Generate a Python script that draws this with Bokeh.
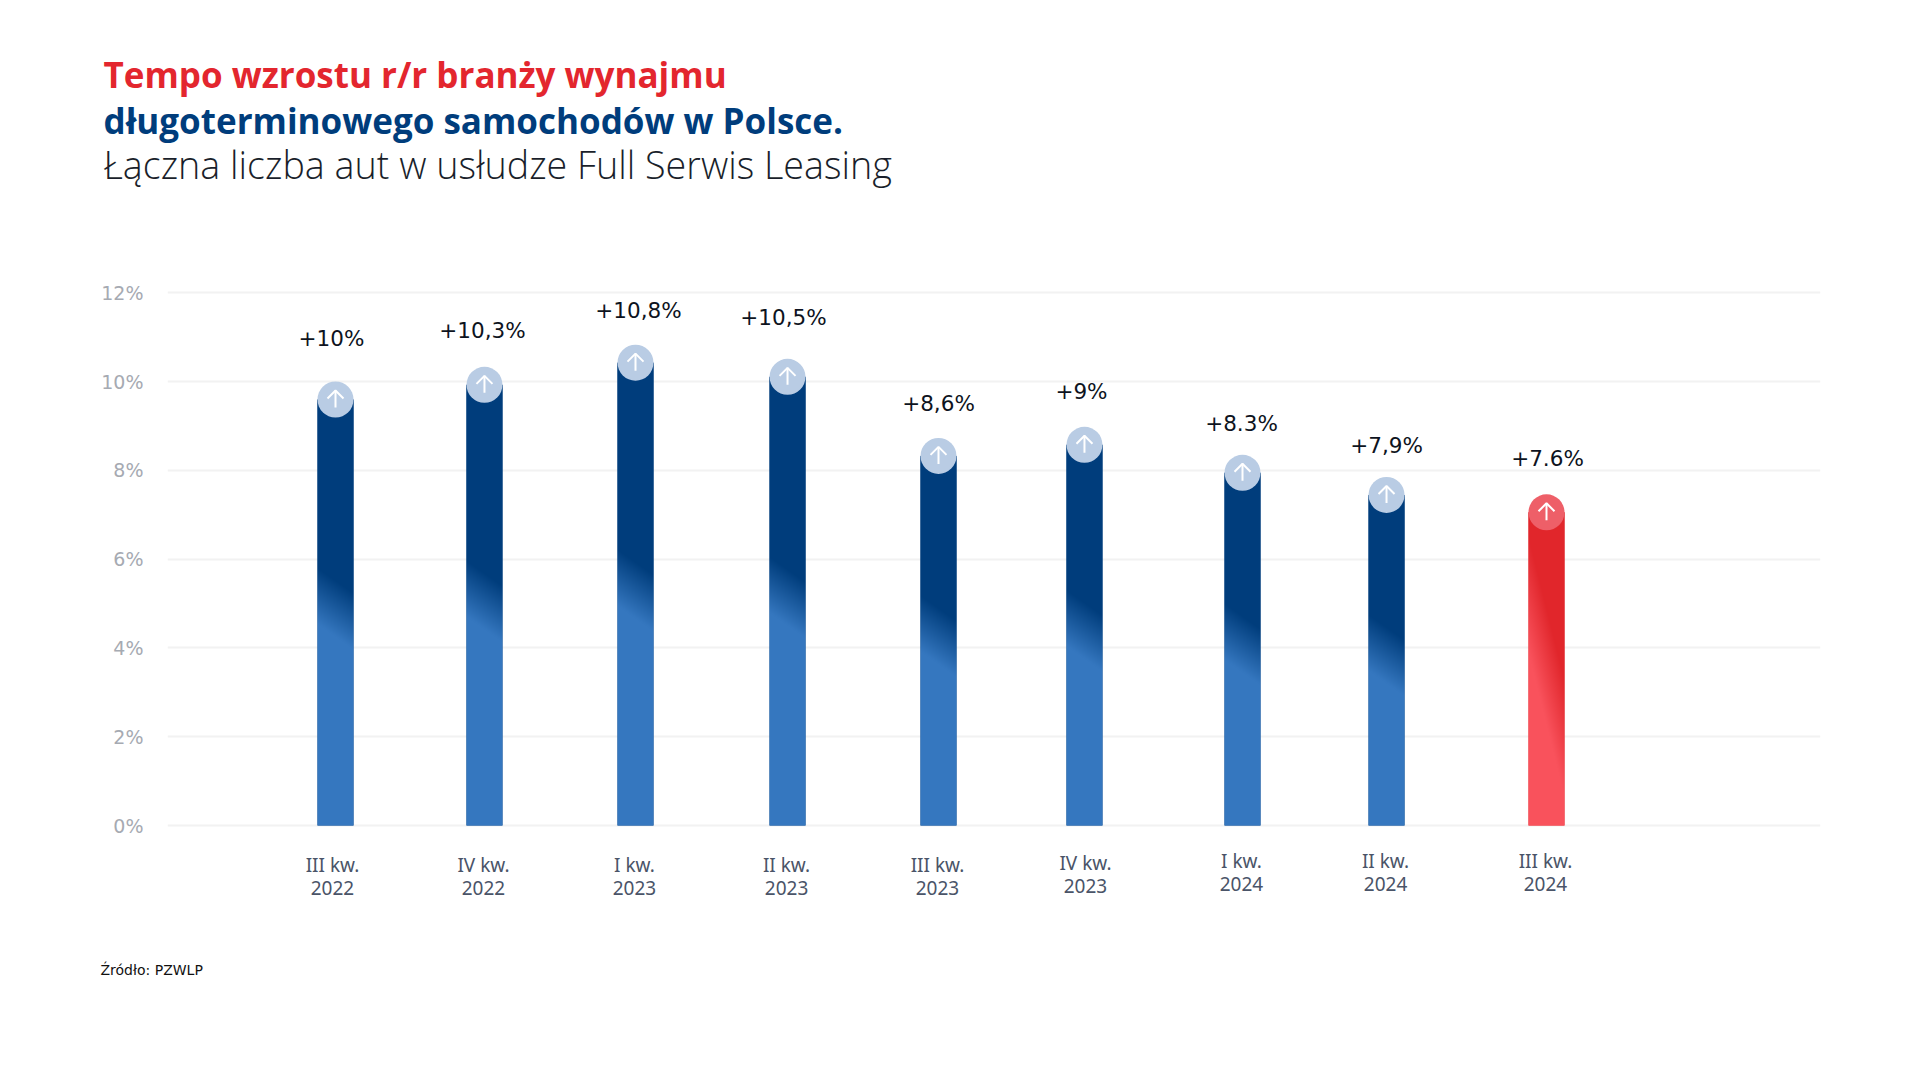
import numpy as np
from bokeh.core.properties import value
from bokeh.embed import file_html
from bokeh.layouts import column
from bokeh.models import ColumnDataSource, FixedTicker, Label, LabelSet, PrintfTickFormatter, Range1d
from bokeh.plotting import figure
from bokeh.resources import INLINE

# --- data ---
quarters = ["III kw.", "IV kw.", "I kw.", "II kw.", "III kw.", "IV kw.", "I kw.", "II kw.", "III kw."]
years = ["2022", "2022", "2023", "2023", "2023", "2023", "2024", "2024", "2024"]
heights = [10.0, 10.33, 10.83, 10.51, 8.73, 8.98, 8.35, 7.85, 7.46]
value_labels = ["+10%", "+10,3%", "+10,8%", "+10,5%", "+8,6%", "+9%", "+8.3%", "+7,9%", "+7.6%"]
y_ticks = [0, 2, 4, 6, 8, 10, 12]

# --- layout (page pixels of the reference) ---
W = 1904
HEAD_H, MAIN_BOTTOM, PAGE_H = 250, 945, 1064
F_L, F_R, F_B = 167, 1820, 825
PX_Y = 44.4
SLOT0, PX_X = 335.0, 151.375
BAR_W, R = 36, 18
bar_nudge = [0, -2.4, -2.75, -2.1, -2.5, -7.9, -1.25, -8.6, 0]
val_dx = [-4, -2, 3, -4, 0, -3, -1, 0, 1]
val_gap = [43, 36, 34, 41, 34, 35, 31, 31, 36]
lab_dx = [-3, -1, -1, -1, -1, 1, -1, -1, -1]
lab_dy = [-2, -2, -2, -2, -2, -4, -6, -6, -6]

DARK, LIGHT = (0x00, 0x3d, 0x7c), (0x35, 0x77, 0xbf)
RDARK, RLIGHT = (0xe1, 0x26, 0x2b), (0xf9, 0x52, 0x5c)


def text_panel(y_top, y_bottom):
    f = figure(width=W, height=y_bottom - y_top, x_range=Range1d(0, W), y_range=Range1d(y_bottom, y_top),
               output_backend="svg", toolbar_location=None, min_border=0, outline_line_color=None,
               x_axis_type=None, y_axis_type=None, frame_align=False)
    f.grid.visible = False
    return f


def add_text(f, text, x, y_page, size, color, font="Open Sans", style="normal"):
    f.add_layout(Label(x=x, y=y_page, text=text, text_font=font, text_font_size=size, text_color=color,
                       text_font_style=style, text_baseline="alphabetic", text_align="left"))


head = text_panel(0, HEAD_H)
add_text(head, "Tempo wzrostu r/r branży wynajmu", 103, 74, "35px", "#e3262e", style="bold")
add_text(head, "długoterminowego samochodów w Polsce.", 103, 119.5, "35px", "#003d7c", style="bold")
add_text(head, "Łączna liczba aut w usłudze Full Serwis Leasing", 103, 163.5, "37.7px", "#1a1f2b", font="Open Sans Light")

foot = text_panel(MAIN_BOTTOM, PAGE_H)
add_text(foot, "Źródło: PZWLP", 100, 969, "14px", "#111111", font="DejaVu Sans")

F_T = HEAD_H + 31
x_range = Range1d((F_L - SLOT0) / PX_X, (F_R - SLOT0) / PX_X)
y_range = Range1d(-(MAIN_BOTTOM - F_B) / PX_Y, (F_B - F_T) / PX_Y)
p = figure(width=W, height=MAIN_BOTTOM - HEAD_H, x_range=x_range, y_range=y_range, output_backend="svg",
           toolbar_location=None, min_border_left=F_L, min_border_right=W - F_R,
           min_border_top=F_T - HEAD_H, min_border_bottom=0, frame_align=False,
           outline_line_color=None, background_fill_color="white", x_axis_type=None)

p.xgrid.visible = False
p.ygrid.grid_line_color = "#f2f2f2"
p.ygrid.grid_line_width = 2
p.ygrid.ticker = FixedTicker(ticks=y_ticks)
ax = p.yaxis[0]
ax.ticker = FixedTicker(ticks=y_ticks)
ax.formatter = PrintfTickFormatter(format="%d%%")
ax.axis_line_color = None
ax.major_tick_line_color = None
ax.minor_tick_line_color = None
ax.major_label_standoff = 18
ax.major_label_text_font = "DejaVu Sans"
ax.major_label_text_font_size = "19px"
ax.major_label_text_color = "#a6aab2"

xs = [i + n / PX_X for i, n in enumerate(bar_nudge)]
centers = [h - R / PX_Y for h in heights]
n = len(heights)
red = [i == n - 1 for i in range(n)]

src = ColumnDataSource(dict(
    x=xs, top=centers,
    color=["#%02x%02x%02x" % (RDARK if r else DARK) for r in red],
    cc=["#ee5f68" if r else "#b9cce4" for r in red],
))
p.vbar(x="x", top="top", bottom=0, width=BAR_W / PX_X, fill_color="color", line_color=None, source=src)


def gradient(height_px, dark, light, slope, half):
    rows = max(int(round(height_px)), 2)
    d = np.arange(rows)[:, None] + 0.5
    off = np.arange(BAR_W)[None, :] + 0.5 - BAR_W / 2
    mid = 0.49 * (height_px + R)
    t = np.clip((d - mid + slope * off) / (2 * half) + 0.5, 0, 1)
    img = np.zeros((rows, BAR_W), dtype=np.uint32)
    v = img.view(np.uint8).reshape(rows, BAR_W, 4)
    for k in range(3):
        v[:, :, k] = light[k] + (dark[k] - light[k]) * t
    v[:, :, 3] = 255
    return img


for i in range(n):
    hpx = centers[i] * PX_Y
    g = gradient(hpx, RDARK if red[i] else DARK, RLIGHT if red[i] else LIGHT,
                 4.0 if red[i] else 0.7, 58 if red[i] else 28)
    p.image_rgba(image=[g], x=xs[i] - BAR_W / PX_X / 2, y=0, dw=BAR_W / PX_X, dh=centers[i])

p.scatter(x="x", y="top", size=2 * R, marker="circle", fill_color="cc", line_color=None, source=src)

# white arrows inside the circles
ax_dx, head_h = 8 / PX_X, 8 / PX_Y
tip = [c + 9 / PX_Y for c in centers]
tail = [c - 8 / PX_Y for c in centers]
p.multi_line(xs=[[x, x] for x in xs], ys=[[a, b] for a, b in zip(tail, tip)],
             line_color="white", line_width=2)
p.multi_line(xs=[[x - ax_dx, x, x + ax_dx] for x in xs],
             ys=[[t - head_h, t, t - head_h] for t in tip],
             line_color="white", line_width=2)

# value labels
vsrc = ColumnDataSource(dict(x=xs, y=heights, t=value_labels, dx=val_dx, dy=val_gap))
p.add_layout(LabelSet(x="x", y="y", text="t", source=vsrc, x_offset="dx", y_offset="dy",
                      text_font=value("DejaVu Sans"), text_font_size="21.5px", text_color="#0d1320",
                      text_align="center", text_baseline="middle"))

# category labels under the zero line
line1 = [F_B - 866 - d for d in lab_dy]
lsrc = ColumnDataSource(dict(x=xs, y=[0] * n, q=quarters, yr=years, dx=lab_dx,
                             d1=line1, d2=[b - 23 for b in line1]))
for col, off in (("q", "d1"), ("yr", "d2")):
    p.add_layout(LabelSet(x="x", y="y", y_offset=off, text=col, source=lsrc, x_offset="dx",
                          text_font=value("Noto Sans"), text_font_size="19px", text_color="#4a5468",
                          text_align="center", text_baseline="middle"))

open("out.html", "w").write(file_html(column(head, p, foot, spacing=0), INLINE))
